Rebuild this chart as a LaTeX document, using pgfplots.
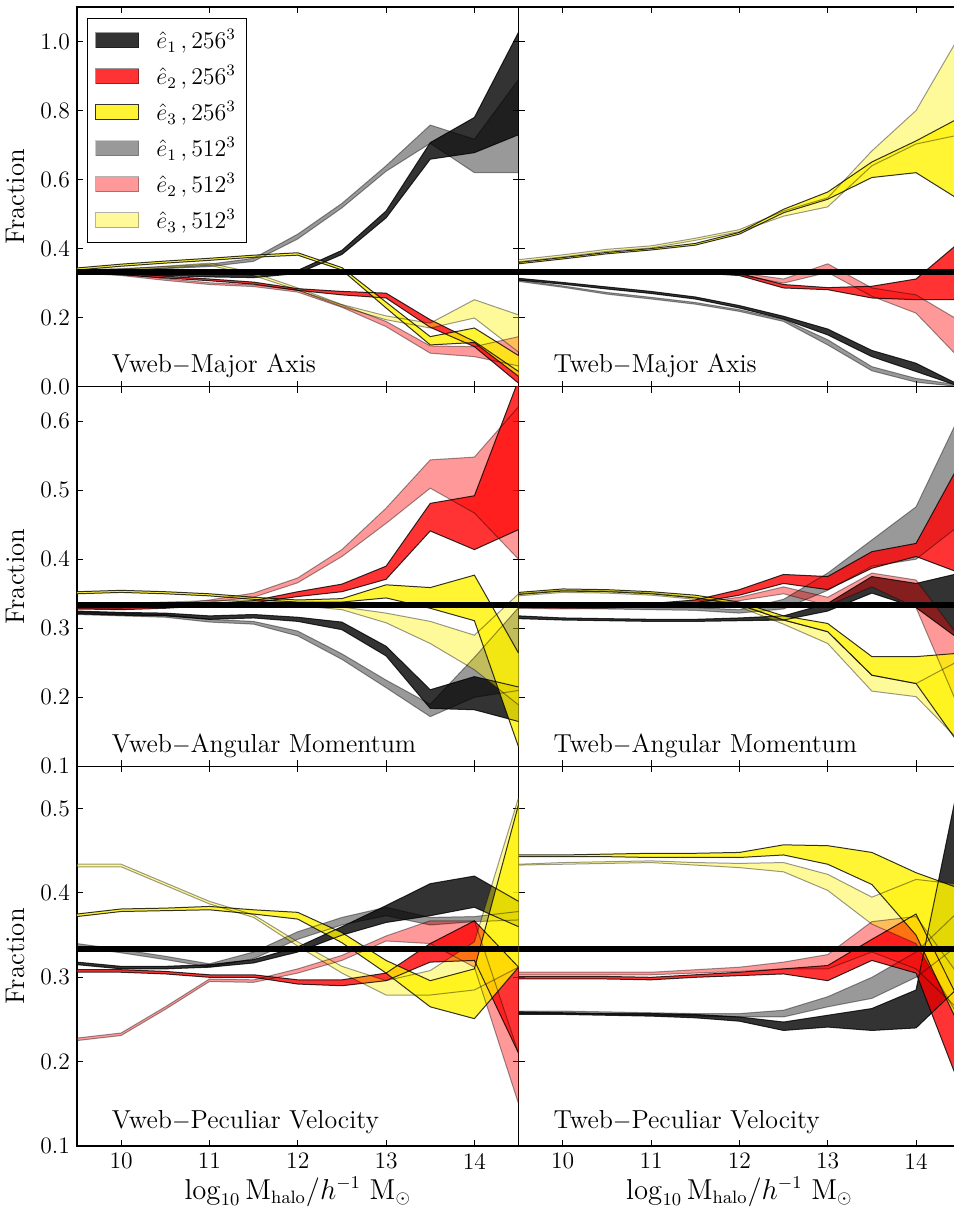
\documentclass[border=0pt]{standalone}
\usepackage{pgfplots}
\pgfplotsset{compat=1.18}
\usepackage{pgfplotstable}
\usepgfplotslibrary{groupplots,fillbetween}

% columns: A=e1 256, B=e2 256, C=e3 256, D=e1 512, E=e2 512, F=e3 512
\pgfplotstableread{
x    Alo   Ahi   Blo   Bhi   Clo   Chi   Dlo   Dhi   Elo   Ehi   Flo   Fhi
9.5  0.328 0.337 0.330 0.335 0.338 0.344 0.333 0.338 0.330 0.335 0.333 0.338
10   0.325 0.333 0.324 0.329 0.349 0.355 0.337 0.342 0.322 0.327 0.335 0.340
10.5 0.322 0.330 0.315 0.320 0.358 0.364 0.342 0.348 0.308 0.313 0.344 0.349
11   0.318 0.326 0.307 0.312 0.366 0.372 0.348 0.355 0.296 0.301 0.352 0.358
11.5 0.316 0.324 0.297 0.303 0.375 0.381 0.363 0.372 0.290 0.295 0.322 0.330
12   0.328 0.337 0.279 0.284 0.381 0.388 0.428 0.442 0.274 0.280 0.280 0.286
12.5 0.383 0.395 0.266 0.276 0.338 0.345 0.518 0.531 0.230 0.237 0.232 0.238
13   0.489 0.509 0.257 0.271 0.228 0.245 0.624 0.640 0.174 0.189 0.194 0.205
13.5 0.659 0.707 0.172 0.194 0.121 0.145 0.705 0.758 0.097 0.118 0.170 0.184
14   0.678 0.780 0.116 0.131 0.128 0.170 0.620 0.717 0.087 0.116 0.199 0.252
14.5 0.730 1.027 0.010 0.044 0.030 0.090 0.620 0.890 0.060 0.145 0.100 0.208
}\TL

\pgfplotstableread{
x    Alo   Ahi   Blo   Bhi   Clo   Chi   Dlo   Dhi   Elo   Ehi   Flo   Fhi
9.5  0.309 0.314 0.330 0.336 0.356 0.360 0.305 0.309 0.330 0.336 0.362 0.368
10   0.297 0.302 0.330 0.336 0.370 0.374 0.288 0.292 0.330 0.336 0.376 0.382
10.5 0.283 0.289 0.330 0.336 0.385 0.389 0.268 0.273 0.330 0.336 0.392 0.398
11   0.270 0.276 0.330 0.336 0.396 0.400 0.254 0.259 0.330 0.336 0.402 0.408
11.5 0.254 0.260 0.330 0.335 0.410 0.415 0.239 0.244 0.330 0.336 0.424 0.430
12   0.228 0.235 0.322 0.328 0.442 0.447 0.218 0.223 0.324 0.330 0.449 0.455
12.5 0.196 0.204 0.286 0.296 0.504 0.514 0.189 0.195 0.300 0.312 0.494 0.509
13   0.150 0.167 0.281 0.287 0.543 0.564 0.121 0.136 0.331 0.356 0.521 0.547
13.5 0.087 0.105 0.257 0.291 0.606 0.651 0.046 0.058 0.262 0.286 0.640 0.683
14   0.044 0.068 0.252 0.312 0.620 0.712 0.013 0.024 0.213 0.266 0.703 0.800
14.5 0.000 0.004 0.252 0.420 0.540 0.780 0.000 0.004 0.080 0.190 0.730 1.020
}\TR

\pgfplotstableread{
x    Alo   Ahi   Blo   Bhi   Clo   Chi   Dlo   Dhi   Elo   Ehi   Flo   Fhi
9.5  0.321 0.325 0.328 0.331 0.350 0.353 0.320 0.324 0.329 0.332 0.331 0.335
10   0.319 0.323 0.327 0.330 0.352 0.355 0.318 0.322 0.329 0.332 0.332 0.336
10.5 0.318 0.322 0.329 0.332 0.350 0.353 0.316 0.320 0.331 0.334 0.334 0.338
11   0.313 0.318 0.333 0.336 0.347 0.350 0.309 0.313 0.338 0.341 0.336 0.340
11.5 0.315 0.320 0.337 0.340 0.342 0.345 0.306 0.310 0.345 0.351 0.337 0.341
12   0.310 0.316 0.346 0.353 0.338 0.341 0.289 0.296 0.366 0.373 0.333 0.337
12.5 0.298 0.309 0.353 0.364 0.338 0.343 0.255 0.263 0.404 0.414 0.327 0.331
13   0.260 0.274 0.371 0.390 0.344 0.363 0.214 0.225 0.452 0.474 0.308 0.322
13.5 0.184 0.211 0.441 0.481 0.329 0.359 0.172 0.190 0.503 0.544 0.278 0.310
14   0.182 0.230 0.414 0.492 0.311 0.377 0.200 0.258 0.467 0.548 0.240 0.290
14.5 0.165 0.215 0.443 0.660 0.128 0.264 0.210 0.330 0.400 0.621 0.189 0.350
}\ML

\pgfplotstableread{
x    Alo   Ahi   Blo   Bhi   Clo   Chi   Dlo   Dhi   Elo   Ehi   Flo   Fhi
9.5  0.314 0.318 0.331 0.334 0.349 0.352 0.330 0.333 0.329 0.332 0.347 0.350
10   0.312 0.315 0.330 0.333 0.354 0.357 0.329 0.332 0.328 0.331 0.352 0.355
10.5 0.311 0.314 0.331 0.334 0.353 0.356 0.328 0.331 0.329 0.332 0.351 0.354
11   0.310 0.313 0.333 0.336 0.350 0.353 0.327 0.330 0.331 0.334 0.348 0.351
11.5 0.310 0.313 0.337 0.341 0.344 0.348 0.326 0.330 0.334 0.337 0.342 0.345
12   0.311 0.315 0.348 0.356 0.334 0.338 0.322 0.327 0.340 0.345 0.331 0.335
12.5 0.312 0.318 0.365 0.378 0.312 0.318 0.328 0.342 0.350 0.360 0.306 0.312
13   0.325 0.336 0.356 0.375 0.295 0.307 0.355 0.380 0.333 0.345 0.278 0.295
13.5 0.351 0.375 0.387 0.411 0.232 0.259 0.390 0.428 0.360 0.380 0.209 0.232
14   0.330 0.365 0.404 0.423 0.220 0.259 0.400 0.476 0.330 0.370 0.201 0.220
14.5 0.283 0.380 0.380 0.540 0.130 0.264 0.450 0.610 0.180 0.285 0.136 0.254
}\MR

\pgfplotstableread{
x    Alo   Ahi   Blo   Bhi   Clo   Chi   Dlo   Dhi   Elo   Ehi   Flo   Fhi
9.5  0.315 0.318 0.306 0.309 0.372 0.375 0.336 0.340 0.225 0.228 0.431 0.434
10   0.310 0.313 0.306 0.309 0.378 0.381 0.329 0.333 0.231 0.234 0.431 0.434
10.5 0.310 0.313 0.304 0.307 0.379 0.382 0.321 0.325 0.262 0.265 0.409 0.412
11   0.312 0.315 0.300 0.303 0.380 0.384 0.312 0.316 0.295 0.298 0.387 0.390
11.5 0.317 0.321 0.300 0.303 0.375 0.380 0.322 0.330 0.294 0.297 0.371 0.374
12   0.330 0.336 0.292 0.297 0.369 0.377 0.345 0.354 0.305 0.310 0.337 0.342
12.5 0.350 0.360 0.290 0.297 0.341 0.353 0.362 0.371 0.320 0.326 0.305 0.313
13   0.365 0.385 0.296 0.305 0.305 0.320 0.373 0.383 0.343 0.349 0.279 0.296
13.5 0.373 0.411 0.318 0.340 0.265 0.296 0.362 0.371 0.340 0.367 0.279 0.308
14   0.383 0.420 0.320 0.367 0.251 0.310 0.366 0.372 0.312 0.367 0.285 0.342
14.5 0.360 0.390 0.210 0.312 0.312 0.505 0.368 0.378 0.150 0.210 0.312 0.513
}\BL

\pgfplotstableread{
x    Alo   Ahi   Blo   Bhi   Clo   Chi   Dlo   Dhi   Elo   Ehi   Flo   Fhi
9.5  0.256 0.259 0.298 0.301 0.443 0.445 0.257 0.260 0.303 0.306 0.433 0.434
10   0.256 0.258 0.298 0.301 0.443 0.445 0.257 0.260 0.303 0.306 0.434 0.436
10.5 0.255 0.257 0.298 0.301 0.443 0.446 0.256 0.259 0.303 0.306 0.435 0.437
11   0.254 0.257 0.297 0.300 0.442 0.447 0.255 0.258 0.303 0.306 0.436 0.438
11.5 0.252 0.256 0.300 0.303 0.442 0.447 0.254 0.257 0.305 0.309 0.433 0.436
12   0.248 0.253 0.302 0.306 0.442 0.448 0.253 0.257 0.307 0.312 0.430 0.435
12.5 0.237 0.247 0.304 0.310 0.445 0.457 0.253 0.261 0.310 0.318 0.425 0.436
13   0.241 0.255 0.296 0.314 0.434 0.456 0.265 0.277 0.310 0.327 0.403 0.422
13.5 0.237 0.263 0.320 0.345 0.410 0.448 0.275 0.300 0.330 0.366 0.363 0.395
14   0.240 0.285 0.305 0.375 0.350 0.424 0.300 0.330 0.310 0.372 0.340 0.416
14.5 0.290 0.540 0.170 0.270 0.240 0.405 0.340 0.380 0.260 0.300 0.250 0.410
}\BR

\pgfplotstableread{
x    y
9.5  0.3333
14.5 0.3333
}\third

\tikzset{
  Aline/.style={draw=black, draw opacity=0.8, line width=0.5pt},
  Bline/.style={draw=black, draw opacity=0.8, line width=0.5pt},
  Cline/.style={draw=black, draw opacity=0.8, line width=0.5pt},
  Dline/.style={draw=black, draw opacity=0.4, line width=0.5pt},
  Eline/.style={draw=black, draw opacity=0.4, line width=0.5pt},
  Fline/.style={draw=black, draw opacity=0.4, line width=0.5pt},
  fillA/.style={fill=black, fill opacity=0.8, draw=none},
  fillB/.style={fill=red, fill opacity=0.8, draw=none},
  fillC/.style={fill=yellow, fill opacity=0.8, draw=none},
  fillD/.style={fill=black, fill opacity=0.4, draw=none},
  fillE/.style={fill=red, fill opacity=0.4, draw=none},
  fillF/.style={fill=yellow, fill opacity=0.4, draw=none},
}

\newcommand{\band}[3]{%
  \addplot[#2line, forget plot, name path=#3#2lo] table[x=x, y=#2lo] {#1};
  \addplot[#2line, forget plot, name path=#3#2hi] table[x=x, y=#2hi] {#1};
  \addplot[fill#2, forget plot, on layer=main] fill between[of=#3#2lo and #3#2hi];
}
\newcommand{\allbands}[2]{%
  \band{#1}{A}{#2}\band{#1}{D}{#2}\band{#1}{B}{#2}%
  \band{#1}{E}{#2}\band{#1}{C}{#2}\band{#1}{F}{#2}%
  \addplot[black, line width=3pt, forget plot] table[x=x, y=y] {\third};
}

\newcommand{\paneltext}[2]{%
  \node[anchor=base west, font=\fontsize{13}{15}\selectfont, xshift=14pt, yshift=#2]
    at (rel axis cs:0,0) {#1};
}
\newcommand{\labfont}{\fontsize{13.5}{16}\selectfont}
\newcommand{\xlab}{{\labfont$\log_{10}\mathrm{M}_{\mathrm{halo}}/h^{-1}\ \mathrm{M}_{\odot}$}}

\begin{document}
\begin{tikzpicture}
\begin{groupplot}[
  group style={group size=2 by 3, horizontal sep=0pt, vertical sep=0pt,
    group name=G, xticklabels at=edge bottom, yticklabels at=edge left},
  width=221pt, height=190pt, scale only axis,
  xmin=9.5, xmax=14.5, xtick={10,11,12,13,14},
  tick pos=both, tick align=inside, major tick length=3pt,
  tick style={black, line width=0.5pt},
  axis line style={line width=0.8pt, black},
  /pgf/number format/assume math mode=true,
  yticklabel style={/pgf/number format/fixed, /pgf/number format/fixed zerofill,
    /pgf/number format/precision=1},
  tick label style={font=\fontsize{11.8}{13}\selectfont},
  every axis y label/.style={at={([xshift=-22.5pt]axis description cs:0,0.5)},
    rotate=90, anchor=south},
  every axis x label/.style={at={([yshift=-26.5pt]axis description cs:0.5,0)},
    anchor=base},
  legend image code/.code={\draw[#1] (0pt,-3.75pt) rectangle (21.5pt,3.75pt);},
]
% ---------- row 1 ----------
\nextgroupplot[ymin=0, ymax=1.1, ytick={0,0.2,0.4,0.6,0.8,1.0},
  ylabel={\labfont Fraction},
  legend style={at={(0,1)}, anchor=north west, xshift=5pt, yshift=-5.5pt,
    draw=black, line width=0.5pt, font=\fontsize{11.5}{13}\selectfont,
    row sep=4pt, inner xsep=4pt, inner ysep=4pt,
    nodes={inner sep=1.5pt},
    /tikz/every odd column/.append style={column sep=7pt}},
  legend cell align=left]
\addlegendimage{fill=black, fill opacity=0.8, draw=black, draw opacity=0.4}
\addlegendentry{$\hat{e}_1\,, 256^3$}
\addlegendimage{fill=red, fill opacity=0.8, draw=black, draw opacity=0.4}
\addlegendentry{$\hat{e}_2\,, 256^3$}
\addlegendimage{fill=yellow, fill opacity=0.8, draw=black, draw opacity=0.8}
\addlegendentry{$\hat{e}_3\,, 256^3$}
\addlegendimage{fill=black, fill opacity=0.4, draw=black, draw opacity=0.2}
\addlegendentry{$\hat{e}_1\,, 512^3$}
\addlegendimage{fill=red, fill opacity=0.4, draw=black, draw opacity=0.3}
\addlegendentry{$\hat{e}_2\,, 512^3$}
\addlegendimage{fill=yellow, fill opacity=0.4, draw=black, draw opacity=0.3}
\addlegendentry{$\hat{e}_3\,, 512^3$}
\allbands{\TL}{tl}
\paneltext{Vweb$-$Major Axis}{7pt}

\nextgroupplot[ymin=0, ymax=1.1, ytick={0,0.2,0.4,0.6,0.8,1.0}]
\allbands{\TR}{tr}
\paneltext{Tweb$-$Major Axis}{7pt}

% ---------- row 2 ----------
\nextgroupplot[ymin=0.1, ymax=0.65, ytick={0.1,0.2,0.3,0.4,0.5,0.6},
  ylabel={\labfont Fraction}]
\allbands{\ML}{ml}
\paneltext{Vweb$-$Angular Momentum}{7pt}

\nextgroupplot[ymin=0.1, ymax=0.65, ytick={0.1,0.2,0.3,0.4,0.5,0.6}]
\allbands{\MR}{mr}
\paneltext{Tweb$-$Angular Momentum}{7pt}

% ---------- row 3 ----------
\nextgroupplot[ymin=0.1, ymax=0.55, ytick={0.1,0.2,0.3,0.4,0.5},
  ylabel={\labfont Fraction}, xlabel={\xlab}]
\allbands{\BL}{bl}
\paneltext{Vweb$-$Peculiar Velocity}{9pt}

\nextgroupplot[ymin=0.1, ymax=0.55, ytick={0.1,0.2,0.3,0.4,0.5}, xlabel={\xlab}]
\allbands{\BR}{br}
\paneltext{Tweb$-$Peculiar Velocity}{9pt}
\end{groupplot}
\pgfresetboundingbox
\path ([xshift=-38.5pt, yshift=3.5pt]G c1r1.north west) rectangle
      ([xshift=-3.5pt, yshift=-31.5pt]G c2r3.south east);
\end{tikzpicture}
\end{document}
